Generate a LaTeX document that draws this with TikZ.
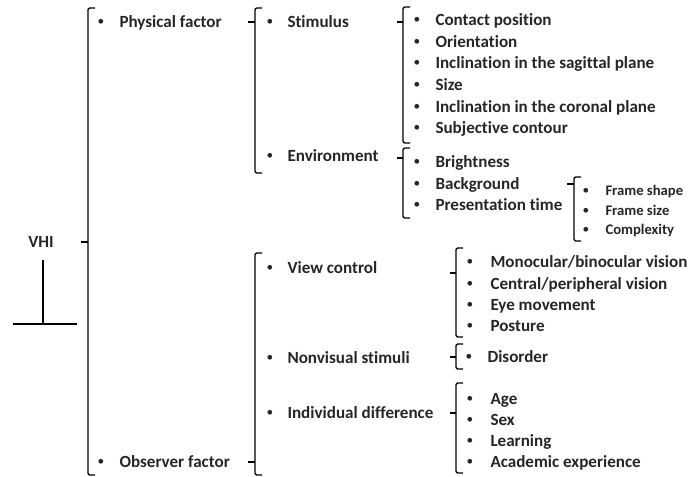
\documentclass[tikz,border=0pt]{standalone}
\usepackage{fontspec}
\setmainfont{Carlito}[Ligatures=CommonOff]
\tikzset{every picture/.style={line width=0.75pt}}
\tikzset{
	brk/.style={line width=1pt, rounded corners=1.5pt},
	itm/.style={anchor=west, inner sep=0pt, text height=2ex, text depth=0.4ex, text=black!85, font=\fontsize{12.8}{15}\selectfont\bfseries},
	subitm/.style={itm, font=\fontsize{11}{13}\selectfont\bfseries}}
\newcommand{\bul}[1]{\makebox[#1][l]{\raisebox{0.15ex}{\fontsize{10}{10}\selectfont\mdseries\textbullet}}}
\begin{document}
\begin{tikzpicture}[x=0.75pt,y=0.75pt,yscale=-1,xscale=1]
	\useasboundingbox (0,0) rectangle (688,477);

	% Root
	\node[itm, anchor=center] (vhi) at (41,242) {VHI};
	\draw [line width=2pt] (43,260) -- (43,324);
	\draw [line width=2pt] (13,324) -- (77,324);

	%Bracket: level 1
	\draw [brk] (95,8) -- (88,8) -- (88,475) -- (95,475);
	\draw [brk] (81,242) -- (88,242);
	% Text Node
	\node[itm] (phys) at (97,22) {\bul{16.5pt}Physical factor};
	\node[itm] (obs) at (97,462) {\bul{16.5pt}Observer factor};

	%Bracket: physical factor
	\draw [brk] (262,8) -- (255,8) -- (255,173) -- (262,173);
	\draw [brk] (248,22) -- (255,22);
	\node[itm] (stim) at (266,22) {\bul{15.75pt}Stimulus};
	\node[itm] (env) at (266,156) {\bul{15.75pt}Environment};

	%Bracket: stimulus
	\draw [brk] (410,7) -- (403,7) -- (403,143) -- (410,143);
	\draw [brk] (397,22) -- (403,22);
	\node[itm] (contact) at (413,20) {\bul{16.5pt}Contact position};
	\node[itm] (orient) at (413,42) {\bul{16.5pt}Orientation};
	\node[itm] (sagit) at (413,63) {\bul{16.5pt}Inclination in the sagittal plane};
	\node[itm] (size) at (413,85) {\bul{16.5pt}Size};
	\node[itm] (coron) at (413,107) {\bul{16.5pt}Inclination in the coronal plane};
	\node[itm] (contour) at (413,128) {\bul{16.5pt}Subjective contour};

	%Bracket: environment
	\draw [brk] (410,148) -- (403,148) -- (403,218) -- (410,218);
	\draw [brk] (397,158) -- (403,158);
	\node[itm] (bright) at (413,162) {\bul{16.5pt}Brightness};
	\node[itm] (backgr) at (413,184) {\bul{16.5pt}Background};
	\node[itm] (prtime) at (413,205) {\bul{16.5pt}Presentation time};

	%Bracket: presentation time
	\draw [brk] (581,177) -- (574,177) -- (574,241) -- (581,241);
	\draw [brk] (567,184) -- (574,184);
	\node[subitm] (fshape) at (582,190) {\bul{17.25pt}Frame shape};
	\node[subitm] (fsize) at (582,210) {\bul{17.25pt}Frame size};
	\node[subitm] (cmplx) at (582,229) {\bul{17.25pt}Complexity};

	%Bracket: observer factor
	\draw [brk] (262,253) -- (255,253) -- (255,475) -- (262,475);
	\draw [brk] (248,462) -- (255,462);
	\node[itm] (view) at (266,268) {\bul{15.75pt}View control};
	\node[itm] (nonvis) at (266,358) {\bul{15.75pt}Nonvisual stimuli};
	\node[itm] (indiv) at (266,413) {\bul{15.75pt}Individual difference};

	%Bracket: view control
	\draw [brk] (463,248) -- (456,248) -- (456,337) -- (463,337);
	\draw [brk] (450,273) -- (456,273);
	\node[itm] (monoc) at (466,262) {\bul{18pt}Monocular/binocular vision};
	\node[itm] (centr) at (466,284) {\bul{18pt}Central/peripheral vision};
	\node[itm] (eyemv) at (466,305) {\bul{18pt}Eye movement};
	\node[itm] (post) at (466,326) {\bul{18pt}Posture};

	%Bracket: nonvisual stimuli
	\draw [brk] (463,344) -- (456,344) -- (456,369) -- (463,369);
	\draw [brk] (450,357) -- (456,357);
	\node[itm] (disord) at (465,357) {\bul{16.5pt}Disorder};

	%Bracket: individual difference
	\draw [brk] (463,383) -- (456,383) -- (456,473) -- (463,473);
	\draw [brk] (450,413) -- (456,413);
	\node[itm] (age) at (466,399) {\bul{18pt}Age};
	\node[itm] (sex) at (466,420) {\bul{18pt}Sex};
	\node[itm] (learn) at (466,441) {\bul{18pt}Learning};
	\node[itm] (acad) at (466,462) {\bul{18pt}Academic experience};

\end{tikzpicture}
\end{document}
